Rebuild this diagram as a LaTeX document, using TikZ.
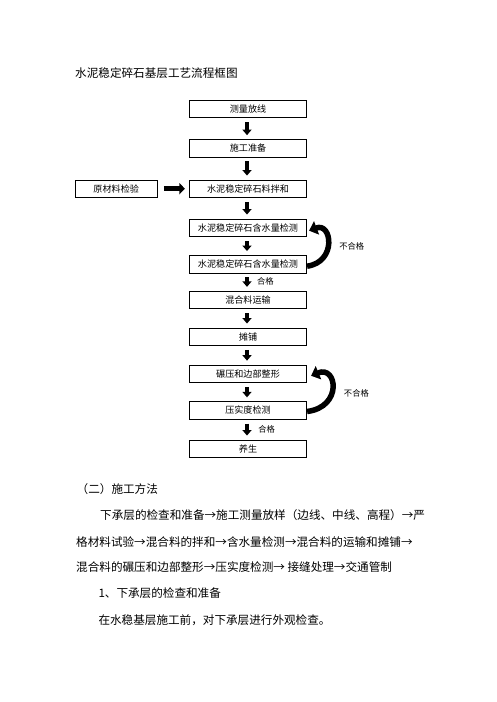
\documentclass[tikz,border=0pt]{standalone}
\usepackage{fontspec}
\setmainfont{Noto Sans CJK SC}
\usetikzlibrary{arrows.meta}
\tikzset{
  flowbox/.style={draw, line width=0.8pt, minimum width=117.4pt, minimum height=17.5pt, inner sep=0pt, font=\fontsize{9.1pt}{10pt}\selectfont},
  downarrow/.style={line width=3.4pt, -{Triangle[width=9pt,length=5.5pt]}, shorten <=4pt, shorten >=4pt},
  sidearrow/.style={line width=5pt, -{Triangle[width=11pt,length=5.5pt]}},
  loopback/.style={line width=5.5pt, -{Triangle[width=14pt,length=8pt]}},
  smalllabel/.style={inner sep=0pt, font=\fontsize{8.3pt}{9pt}\selectfont},
  bodytext/.style={inner sep=0pt, anchor=west, font=\fontsize{11.6pt}{13pt}\selectfont},
}
\begin{document}
\begin{tikzpicture}[x=1pt,y=-1pt]
\useasboundingbox (0,0) rectangle (496,702);
\fill[white] (0,0) rectangle (496,702);
\node[bodytext] (title) at (75,73) {水泥稳定碎石基层工艺流程框图};
\node[flowbox] (b1) at (248,109) {测量放线};
\node[flowbox] (b2) at (248,148.3) {施工准备};
\node[flowbox] (b3) at (248,188.7) {水泥稳定碎石料拌和};
\node[flowbox, minimum width=82.3pt] (b0) at (116.2,188.7) {原材料检验};
\node[flowbox] (b4) at (248,227.7) {水泥稳定碎石含水量检测};
\node[flowbox] (b5) at (248,264.2) {水泥稳定碎石含水量检测};
\node[flowbox] (b6) at (248,300) {混合料运输};
\node[flowbox] (b7) at (248,336.7) {摊铺};
\node[flowbox] (b8) at (248,373.8) {碾压和边部整形};
\node[flowbox] (b9) at (248,410.5) {压实度检测};
\node[flowbox] (b10) at (248,448.7) {养生};
\draw[downarrow] ([xshift=-1pt]b1.south) -- ([xshift=-1pt]b2.north);
\draw[downarrow] ([xshift=-1pt]b2.south) -- ([xshift=-1pt]b3.north);
\draw[downarrow] ([xshift=-1pt]b3.south) -- ([xshift=-1pt]b4.north);
\draw[downarrow] ([xshift=-1pt]b4.south) -- ([xshift=-1pt]b5.north);
\draw[downarrow] ([xshift=-1pt]b5.south) -- ([xshift=-1pt]b6.north);
\draw[downarrow] ([xshift=-1pt]b6.south) -- ([xshift=-1pt]b7.north);
\draw[downarrow] ([xshift=-1pt]b7.south) -- ([xshift=-1pt]b8.north);
\draw[downarrow] ([xshift=-1pt]b8.south) -- ([xshift=-1pt]b9.north);
\draw[downarrow] ([xshift=-1pt]b9.south) -- ([xshift=-1pt]b10.north);
\draw[sidearrow] ([xshift=6pt]b0.east) -- ([xshift=-4pt]b3.west);
\node[smalllabel] (ok1) at (265.3,281.7) {合格};
\node[smalllabel] (ok2) at (266.7,429.3) {合格};
\draw[loopback] ([yshift=-2pt]b5.east) .. controls (337,262) and (332,222) .. ([xshift=2pt,yshift=-3pt]b4.east);
\draw[loopback] ([yshift=-1pt]b9.east) .. controls (343,407) and (337,365) .. ([xshift=4pt,yshift=-2pt]b8.east);
\node[smalllabel] (ng1) at (351.7,246.7) {不合格};
\node[smalllabel] (ng2) at (356.4,393.3) {不合格};
\node[bodytext] (h2) at (76.5,489.3) {（二）施工方法};
\node[bodytext] (p1) at (100,515) {下承层的检查和准备→施工测量放样（边线、中线、高程）→严};
\node[bodytext] (p2) at (76,541.7) {格材料试验→混合料的拌和→含水量检测→混合料的运输和摊铺→};
\node[bodytext] (p3) at (76,567.3) {混合料的碾压和边部整形→压实度检测→ 接缝处理→交通管制};
\node[bodytext] (h3) at (98.3,593.3) {1、下承层的检查和准备};
\node[bodytext] (p4) at (98.3,620) {在水稳基层施工前，对下承层进行外观检查。};
\end{tikzpicture}
\end{document}
